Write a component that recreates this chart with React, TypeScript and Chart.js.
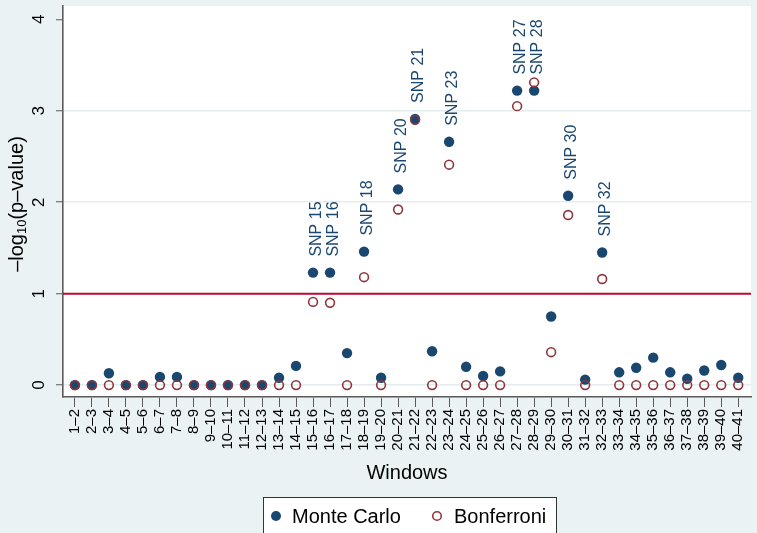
import React, { useEffect, useRef } from "react";
import { Chart, registerables } from "chart.js";

Chart.register(...registerables);

// ---------- data ----------
const windows = [
  "1–2", "2–3", "3–4", "4–5", "5–6", "6–7", "7–8", "8–9", "9–10", "10–11",
  "11–12", "12–13", "13–14", "14–15", "15–16", "16–17", "17–18", "18–19", "19–20", "20–21",
  "21–22", "22–23", "23–24", "24–25", "25–26", "26–27", "27–28", "28–29", "29–30", "30–31",
  "31–32", "32–33", "33–34", "34–35", "35–36", "36–37", "37–38", "38–39", "39–40", "40–41",
];

const monteCarlo = [
  0, 0, 0.13, 0, 0, 0.09, 0.09, 0, 0, 0,
  0, 0, 0.08, 0.21, 1.23, 1.23, 0.35, 1.46, 0.08, 2.14,
  2.91, 0.37, 2.66, 0.2, 0.1, 0.15, 3.22, 3.22, 0.75, 2.07,
  0.06, 1.45, 0.14, 0.19, 0.3, 0.14, 0.07, 0.16, 0.22, 0.08,
];

const bonferroni = [
  0, 0, 0, 0, 0, 0, 0, 0, 0, 0,
  0, 0, 0, 0, 0.91, 0.9, 0, 1.18, 0, 1.92,
  2.9, 0, 2.41, 0, 0, 0, 3.05, 3.31, 0.36, 1.86,
  0, 1.16, 0, 0, 0, 0, 0, 0, 0, 0,
];

const snpWindowIndex = [14, 15, 17, 19, 20, 22, 26, 27, 29, 31];
const snpText = ["SNP 15", "SNP 16", "SNP 18", "SNP 20", "SNP 21", "SNP 23", "SNP 27", "SNP 28", "SNP 30", "SNP 32"];

const yTicks = [0, 1, 2, 3, 4];
const threshold = 1;

const seriesNames = ["Monte Carlo", "Bonferroni"];
const xTitle = "Windows";

// ---------- styles ----------
const FONT = "'Liberation Sans', Arial, Helvetica, sans-serif";
const NAVY = "#1a476f";
const MAROON = "#90353b";
const RED = "#c10534";
const BG = "#eaf2f3";
const GRID = "#e4ecee";
const AXIS = "#5a5a5a";

const decor = {
  id: "decor",
  beforeDraw(chart: any) {
    const { ctx, chartArea: a, width, height } = chart;
    ctx.save();
    ctx.fillStyle = BG;
    ctx.fillRect(0, 0, width, height);
    ctx.fillStyle = "#ffffff";
    ctx.fillRect(a.left, a.top, a.right - a.left, a.bottom - a.top);
    ctx.restore();
  },
  beforeDatasetsDraw(chart: any) {
    const { ctx, chartArea: a } = chart;
    const y = chart.scales.y.getPixelForValue(threshold);
    ctx.save();
    ctx.strokeStyle = RED;
    ctx.lineWidth = 2;
    ctx.beginPath();
    ctx.moveTo(a.left, y);
    ctx.lineTo(a.right, y);
    ctx.stroke();
    ctx.restore();
  },
  afterDatasetsDraw(chart: any) {
    const { ctx } = chart;
    const meta = chart.getDatasetMeta(0);
    ctx.save();
    ctx.fillStyle = NAVY;
    ctx.font = `16px ${FONT}`;
    ctx.textAlign = "left";
    ctx.textBaseline = "alphabetic";
    snpWindowIndex.forEach((idx, k) => {
      const el = meta.data[idx];
      if (!el) return;
      ctx.save();
      ctx.translate(el.x + 8, el.y - 16);
      ctx.rotate(-Math.PI / 2);
      ctx.fillText(snpText[k], 0, 0);
      ctx.restore();
    });
    ctx.restore();
  },
  afterDraw(chart: any) {
    const { ctx, chartArea: a } = chart;
    const ys = chart.scales.y;
    ctx.save();
    ctx.fillStyle = "#000";
    // y tick labels (rotated)
    ctx.font = `17px ${FONT}`;
    ctx.textAlign = "center";
    ctx.textBaseline = "alphabetic";
    yTicks.forEach((v) => {
      const y = ys.getPixelForValue(v);
      ctx.save();
      ctx.translate(43.5, y);
      ctx.rotate(-Math.PI / 2);
      ctx.fillText(String(v), 0, 0);
      ctx.restore();
    });
    // y title: –log10(p–value) with subscript
    const big = `20px ${FONT}`;
    const small = `13px ${FONT}`;
    const p1 = "–log";
    const p2 = "10";
    const p3 = "(p–value)";
    ctx.font = big;
    const w1 = ctx.measureText(p1).width;
    const w3 = ctx.measureText(p3).width;
    ctx.font = small;
    const w2 = ctx.measureText(p2).width;
    const total = w1 + w2 + w3;
    ctx.save();
    ctx.translate(22.5, 204);
    ctx.rotate(-Math.PI / 2);
    ctx.textAlign = "left";
    let x0 = -total / 2;
    ctx.font = big;
    ctx.fillText(p1, x0, 0);
    x0 += w1;
    ctx.font = small;
    ctx.fillText(p2, x0, 3);
    x0 += w2;
    ctx.font = big;
    ctx.fillText(p3, x0, 0);
    ctx.restore();

    // x title
    ctx.font = `20px ${FONT}`;
    ctx.textAlign = "center";
    ctx.fillText(xTitle, (a.left + a.right) / 2, 479);

    // legend
    const lx = 263.5, ly = 497.5, lw = 293, lh = 50;
    ctx.fillStyle = "#ffffff";
    ctx.fillRect(lx, ly, lw, lh);
    ctx.strokeStyle = "#333";
    ctx.lineWidth = 1;
    ctx.strokeRect(lx, ly, lw, lh);
    const ds = chart.data.datasets;
    // Monte Carlo marker
    ctx.fillStyle = ds[0].backgroundColor;
    ctx.beginPath();
    ctx.arc(276, 516, 5, 0, Math.PI * 2);
    ctx.fill();
    // Bonferroni marker
    ctx.strokeStyle = ds[1].borderColor;
    ctx.lineWidth = 1.6;
    ctx.beginPath();
    ctx.arc(437, 516, 4.3, 0, Math.PI * 2);
    ctx.stroke();
    ctx.fillStyle = "#000";
    ctx.font = `20px ${FONT}`;
    ctx.textAlign = "left";
    ctx.fillText(ds[0].label, 292, 523);
    ctx.fillText(ds[1].label, 454, 523);
    ctx.restore();
  },
};

export default function App() {
  const canvasRef = useRef<HTMLCanvasElement | null>(null);

  useEffect(() => {
    const canvas = canvasRef.current;
    if (!canvas) return;
    const chart = new Chart(canvas, {
      type: "scatter",
      data: {
        datasets: [
          {
            label: seriesNames[0],
            data: monteCarlo.map((v, i) => ({ x: i, y: v })),
            backgroundColor: NAVY,
            borderColor: NAVY,
            borderWidth: 0,
            pointRadius: 5.2,
            pointHoverRadius: 5.2,
            order: 1,
          },
          {
            label: seriesNames[1],
            data: bonferroni.map((v, i) => ({ x: i, y: v })),
            backgroundColor: "rgba(0,0,0,0)",
            borderColor: MAROON,
            borderWidth: 1.6,
            pointRadius: 4.4,
            pointHoverRadius: 4.4,
            order: 0,
          },
        ],
      },
      options: {
        responsive: false,
        animation: false,
        events: [],
        layout: { padding: { top: 5, left: 0, right: 0, bottom: 0 } },
        plugins: {
          legend: { display: false },
          tooltip: { enabled: false },
        },
        scales: {
          x: {
            type: "linear",
            min: -0.7,
            max: 39.75,
            afterBuildTicks: (scale: any) => {
              scale.ticks = windows.map((_, i) => ({ value: i }));
            },
            afterFit: (scale: any) => {
              scale.height = 136;
              scale.paddingLeft = 0;
              scale.paddingRight = 0;
            },
            grid: {
              drawOnChartArea: false,
              drawTicks: true,
              tickLength: 10,
              tickColor: AXIS,
              tickWidth: 1,
              color: "rgba(0,0,0,0)",
            },
            border: { display: true, color: AXIS, width: 1.6 },
            ticks: {
              autoSkip: false,
              minRotation: 90,
              maxRotation: 90,
              padding: 2,
              color: "#000",
              font: { family: FONT, size: 15 },
              callback: (v: any) => windows[v] ?? "",
            },
          },
          y: {
            type: "linear",
            min: -0.13,
            max: 4.145,
            afterBuildTicks: (scale: any) => {
              scale.ticks = yTicks.map((v) => ({ value: v }));
            },
            afterFit: (scale: any) => {
              scale.width = 63;
              scale.paddingTop = 0;
              scale.paddingBottom = 0;
            },
            grid: {
              drawOnChartArea: true,
              drawTicks: true,
              tickLength: 7,
              tickColor: AXIS,
              tickWidth: 1,
              lineWidth: 1.5,
              color: (c: any) => (c.tick && c.tick.value === 4 ? "rgba(0,0,0,0)" : GRID),
            },
            border: { display: true, color: AXIS, width: 1.6 },
            ticks: { display: false },
          },
        },
      },
      plugins: [decor],
    } as any);
    return () => chart.destroy();
  }, []);

  return (
    <div style={{ position: "absolute", left: 0, top: 0, width: 757, height: 533, background: BG }}>
      <canvas ref={canvasRef} width={757} height={533} style={{ display: "block" }} />
    </div>
  );
}
